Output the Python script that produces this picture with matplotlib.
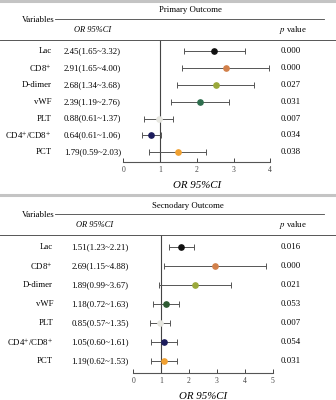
import matplotlib
matplotlib.use("Agg")
import matplotlib.pyplot as plt
import matplotlib.transforms as mtransforms
from matplotlib.lines import Line2D

plt.rcParams['font.family'] = ['Liberation Serif', 'DejaVu Serif']
plt.rcParams['mathtext.fontset'] = 'stix'

variables = ['Lac', 'CD8$^{+}$', 'D-dimer', 'vWF', 'PLT', 'CD4$^{+}$/CD8$^{+}$', 'PCT']
colors = ['#111111', '#d2804a', '#9aa83a', '#2e6e4e', '#e6e6e0', '#1c1c5c', '#f0a030']
colors2 = ['#111111', '#d2804a', '#9aa83a', '#2e5a32', '#e6e6e0', '#1c1c5c', '#f0a030']

# primary outcome (plotted positions)
prim_or = [2.48, 2.79, 2.52, 2.08, 0.97, 0.76, 1.48]
prim_lo = [1.65, 1.61, 1.47, 1.30, 0.57, 0.52, 0.70]
prim_hi = [3.32, 3.96, 3.56, 2.87, 1.34, 1.02, 2.25]
prim_txt = ['2.45(1.65~3.32)', '2.91(1.65~4.00)', '2.68(1.34~3.68)', '2.39(1.19~2.76)',
            '0.88(0.61~1.37)', '0.64(0.61~1.06)', '1.79(0.59~2.03)']
prim_p = ['0.000', '0.000', '0.027', '0.031', '0.007', '0.034', '0.038']

# secondary outcome
sec_or = [1.71, 2.93, 2.23, 1.17, 0.95, 1.11, 1.11]
sec_lo = [1.29, 1.10, 0.92, 0.71, 0.60, 0.64, 0.64]
sec_hi = [2.16, 4.75, 3.52, 1.63, 1.33, 1.58, 1.58]
sec_txt = ['1.51(1.23~2.21)', '2.69(1.15~4.88)', '1.89(0.99~3.67)', '1.18(0.72~1.63)',
           '0.85(0.57~1.35)', '1.05(0.60~1.61)', '1.19(0.62~1.53)']
sec_p = ['0.016', '0.000', '0.021', '0.053', '0.007', '0.054', '0.031']

W, H = 336, 400
fig = plt.figure(figsize=(W / 100, H / 100), dpi=100)


def fx(x):
    return x / W


def fy(y):
    return 1 - y / H


def hline(y, x0, x1, color='#444444', lw=0.6):
    fig.add_artist(Line2D([fx(x0), fx(x1)], [fy(y), fy(y)], transform=fig.transFigure,
                          color=color, lw=lw))


def panel(top, title, title_x, ax_box, xmax, rows_lim, ors, los, his, txts, ps, cols,
          lab_x, txt_x, or_head_x):
    # header
    fig.text(fx(title_x), fy(top + 10.5), title, ha='center', va='center', fontsize=6.3)
    fig.text(fx(22), fy(top + 20), 'Variables', ha='left', va='center', fontsize=6.3)
    hline(top + 19, 55, 324)
    fig.text(fx(or_head_x), fy(top + 30), 'OR 95%CI', ha='center', va='center',
             fontsize=6.0, style='italic')
    fig.text(fx(279), fy(top + 30), '$p$ value', ha='left', va='center', fontsize=6.3)
    hline(top + 39.5, 0, W, color='#555555', lw=0.7)

    x0, y0, x1, y1 = ax_box
    ax = fig.add_axes([fx(x0), fy(y1), fx(x1) - fx(x0), (y1 - y0) / H])
    n = len(ors)
    for i in range(n):
        ax.errorbar(ors[i], i, xerr=[[ors[i] - los[i]], [his[i] - ors[i]]], fmt='o',
                    color='#555555', ecolor='#555555', elinewidth=0.7, capsize=2,
                    capthick=0.7, markersize=3.8, markerfacecolor=cols[i],
                    markeredgecolor=cols[i], zorder=3)
    ax.axvline(1, color='#444444', lw=0.8, zorder=2)
    ax.set_xlim(0, xmax)
    ax.set_ylim(*rows_lim)
    ax.set_yticks([])
    ax.set_xticks(range(xmax + 1))
    ax.tick_params(axis='x', direction='in', length=3, width=0.7, labelsize=5.5,
                   pad=3, colors='#444444')
    for s in ['left', 'right', 'top']:
        ax.spines[s].set_visible(False)
    ax.spines['bottom'].set_color('#555555')
    ax.spines['bottom'].set_linewidth(0.8)
    ax.set_xlabel('OR 95%CI', fontsize=7.8, style='italic', labelpad=5)
    ax.patch.set_alpha(0)

    tr = mtransforms.blended_transform_factory(fig.transFigure, ax.transData)
    for i in range(n):
        fig.text(fx(lab_x), i, variables[i], transform=tr, ha='right', va='center',
                 fontsize=6.3)
        fig.text(fx(txt_x), i, txts[i], transform=tr, ha='left', va='center', fontsize=6.3)
        fig.text(fx(281), i, ps[i], transform=tr, ha='left', va='center', fontsize=6.3)
    return ax


# grey separators
hline(0.8, 0, W, color='#c4c4c4', lw=2.2)
hline(194.5, 0, W, color='#c4c4c4', lw=2.2)

panel(0, 'Primary Outcome', 190, (123.3, 39.5, 270.3, 161.7), 4, (6.56, -0.69),
      prim_or, prim_lo, prim_hi, prim_txt, prim_p, colors, 51.5, 64, 93)
panel(195, 'Secnodary Outcome', 187.5, (133.3, 234.5, 272.7, 373.3), 5, (6.63, -0.68),
      sec_or, sec_lo, sec_hi, sec_txt, sec_p, colors2, 53, 71.5, 95)

fig.savefig('out.png', dpi=100)
